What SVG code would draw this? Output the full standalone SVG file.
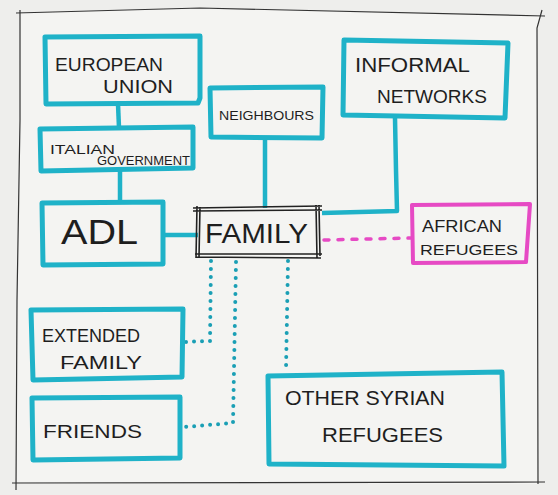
<svg xmlns="http://www.w3.org/2000/svg" width="558" height="495" viewBox="0 0 558 495">
<style>
.box{fill:none;stroke:#1fb2c8;stroke-width:5;stroke-linejoin:round;stroke-linecap:round}
.pink{fill:none;stroke:#e64ac4;stroke-width:4;stroke-linejoin:round;stroke-linecap:round}
.con{fill:none;stroke:#1fb2c8;stroke-width:4.5;stroke-linejoin:round}
.dot{fill:none;stroke:#1a9fb5;stroke-width:4;stroke-linecap:round;stroke-dasharray:0 8}
.dash{fill:none;stroke:#e64ac4;stroke-width:3.5;stroke-linecap:round;stroke-dasharray:5 9}
.fam{fill:none;stroke:#222;stroke-width:1.6}
.frame{fill:none;stroke:#333;stroke-width:1.2}
text{font-family:"Liberation Sans",Arial,sans-serif;fill:#1e1e1e;lengthAdjust:spacingAndGlyphs}
</style>
<rect x="0" y="0" width="558" height="495" fill="#eeeeec"/>
<path d="M16,14 L20,13 L200,8 L540,15 L543,14 L537,27 L538,484 L16,482 L20,13 Z" fill="#f4f4f2" stroke="none"/>
<g id="frame">
<path class="frame" d="M16,13 L200,8 L545,16"/>
<path class="frame" d="M542,10 L537,28 L538,484"/>
<path class="frame" d="M12,483 L545,482"/>
<path class="frame" d="M20,10 L20,120 L17,300 L16,490"/>
</g>
<g id="connectors">
<path class="con" d="M118,104 L119,128"/>
<path class="con" d="M120,171 L120,203"/>
<path class="con" d="M163,235 L198,235"/>
<path class="con" d="M265,138 L265,208"/>
<path class="con" d="M395,118 L396,170 L397,211 L322,213"/>
<path class="dash" d="M324,240 L412,238"/>
<path class="dot" d="M211,261 L210,341 L184,342"/>
<path class="dot" d="M236,262 L233,423 L184,427"/>
<path class="dot" d="M288,261 L286,370"/>
</g>
<g id="european-union">
<path class="box" d="M45,37 L200,36 L200,98 L198,103 L46,104 Z"/>
<text x="55" y="71" font-size="19" textLength="108" lengthAdjust="spacingAndGlyphs">EUROPEAN</text>
<text x="103" y="93" font-size="18" textLength="70" lengthAdjust="spacingAndGlyphs">UNION</text>
</g>
<g id="italian-government">
<path class="box" d="M40,129 L193,127 L193,168 L41,171 Z"/>
<text x="50" y="154" font-size="13" textLength="65" lengthAdjust="spacingAndGlyphs">ITALIAN</text>
<text x="97" y="165" font-size="13" textLength="93" lengthAdjust="spacingAndGlyphs">GOVERNMENT</text>
</g>
<g id="adl">
<path class="box" d="M42,203 L163,202 L163,264 L43,265 Z"/>
<text x="61" y="244" font-size="35" textLength="77" lengthAdjust="spacingAndGlyphs">ADL</text>
</g>
<g id="neighbours">
<path class="box" d="M210,88 L323,87 L322,138 L211,137 Z"/>
<text x="219" y="120" font-size="13" textLength="95" lengthAdjust="spacingAndGlyphs">NEIGHBOURS</text>
</g>
<g id="informal-networks">
<path class="box" d="M344,40 L508,43 L505,118 L343,115 Z"/>
<text x="355" y="72" font-size="21" textLength="115" lengthAdjust="spacingAndGlyphs">INFORMAL</text>
<text x="377" y="103" font-size="18" textLength="110" lengthAdjust="spacingAndGlyphs">NETWORKS</text>
</g>
<g id="family">
<path class="fam" d="M193,208 L322,206 M193,211 L322,210 M197,206 L196,258 M200,207 L199,257 M316,205 L317,258 M319,205 L320,256 M195,254 L322,254 M196,257 L321,258"/>
<text x="205" y="243" font-size="27" textLength="103" lengthAdjust="spacingAndGlyphs">FAMILY</text>
</g>
<g id="african-refugees">
<path class="pink" d="M412,205 L530,204 L526,262 L413,263 Z"/>
<text x="422" y="232" font-size="17" textLength="80" lengthAdjust="spacingAndGlyphs">AFRICAN</text>
<text x="420" y="255" font-size="15" textLength="98" lengthAdjust="spacingAndGlyphs">REFUGEES</text>
</g>
<g id="extended-family">
<path class="box" d="M31,310 L183,309 L182,377 L33,380 Z"/>
<text x="42" y="342" font-size="19" textLength="98" lengthAdjust="spacingAndGlyphs">EXTENDED</text>
<text x="60" y="369" font-size="18" textLength="82" lengthAdjust="spacingAndGlyphs">FAMILY</text>
</g>
<g id="friends">
<path class="box" d="M32,398 L180,397 L180,458 L33,460 Z"/>
<text x="43" y="438" font-size="19" textLength="99" lengthAdjust="spacingAndGlyphs">FRIENDS</text>
</g>
<g id="other-syrian-refugees">
<path class="box" d="M268,376 L502,372 L504,466 L269,464 Z"/>
<text x="285" y="405" font-size="20" textLength="160" lengthAdjust="spacingAndGlyphs">OTHER SYRIAN</text>
<text x="322" y="442" font-size="20" textLength="121" lengthAdjust="spacingAndGlyphs">REFUGEES</text>
</g>
</svg>
